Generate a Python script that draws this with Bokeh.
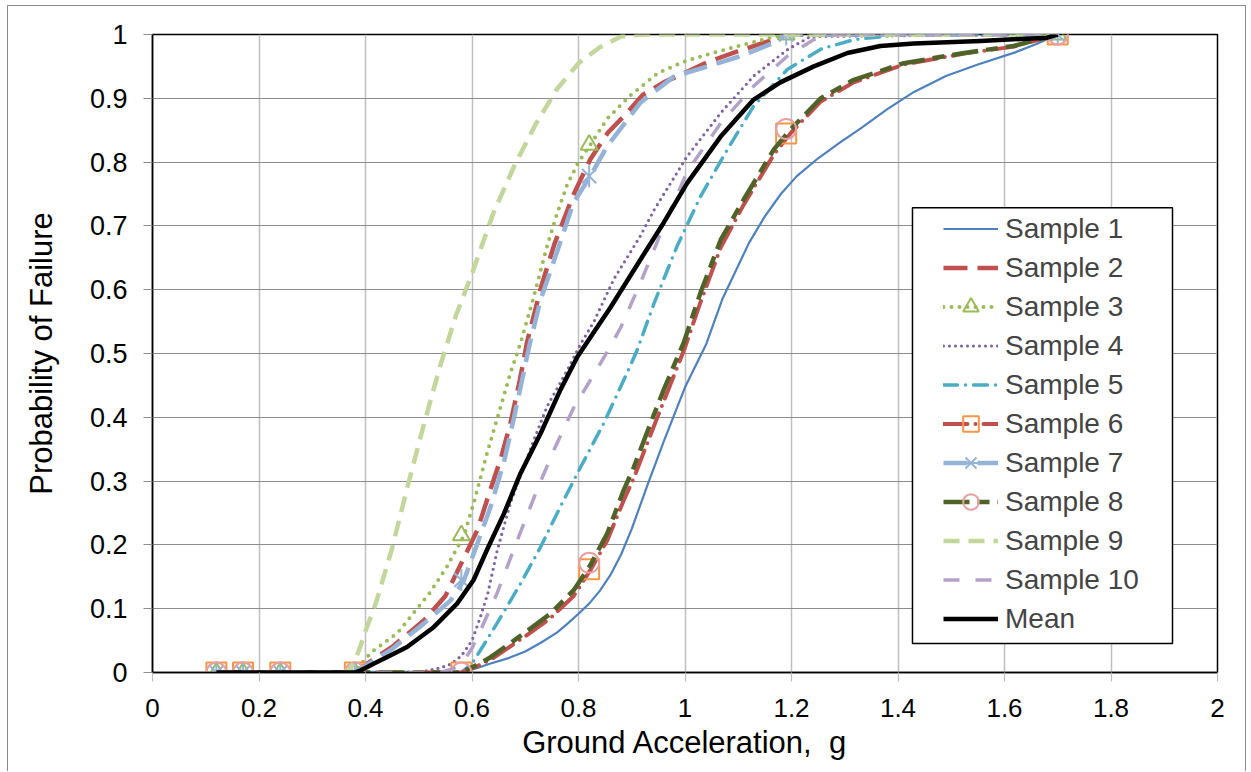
import math
from bokeh.plotting import figure
from bokeh.models import FixedTicker, Legend, LegendItem, BoxAnnotation
from bokeh.embed import file_html
from bokeh.resources import INLINE

# ---------------- data ----------------
x_ticks = [0, 0.2, 0.4, 0.6, 0.8, 1, 1.2, 1.4, 1.6, 1.8, 2]
x_tick_labels = ["0", "0.2", "0.4", "0.6", "0.8", "1", "1.2", "1.4", "1.6", "1.8", "2"]
y_ticks = [0, 0.1, 0.2, 0.3, 0.4, 0.5, 0.6, 0.7, 0.8, 0.9, 1]
y_tick_labels = ["0", "0.1", "0.2", "0.3", "0.4", "0.5", "0.6", "0.7", "0.8", "0.9", "1"]

s1_x = [0.12, 0.58, 0.61, 0.635, 0.67, 0.70, 0.73, 0.76, 0.78, 0.80, 0.82, 0.84, 0.86, 0.88, 0.90, 0.93, 0.96, 1.0, 1.04, 1.07, 1.12, 1.15, 1.18, 1.21, 1.25, 1.29, 1.33, 1.38, 1.43, 1.49, 1.55, 1.62, 1.66, 1.70]
s1_y = [0, 0, 0.007, 0.014, 0.023, 0.033, 0.047, 0.063, 0.077, 0.092, 0.108, 0.128, 0.153, 0.185, 0.225, 0.295, 0.362, 0.447, 0.515, 0.585, 0.673, 0.715, 0.75, 0.778, 0.806, 0.83, 0.853, 0.883, 0.91, 0.935, 0.953, 0.972, 0.985, 1.0]

s2_x = [0.12, 0.38, 0.41, 0.45, 0.51, 0.55, 0.585, 0.61, 0.63, 0.655, 0.672, 0.69, 0.704, 0.73, 0.755, 0.79, 0.822, 0.855, 0.89, 0.92, 0.96, 1.0, 1.04, 1.10, 1.17, 1.19, 1.70]
s2_y = [0, 0, 0.018, 0.04, 0.082, 0.12, 0.18, 0.223, 0.275, 0.338, 0.39, 0.459, 0.52, 0.605, 0.672, 0.748, 0.804, 0.846, 0.876, 0.905, 0.925, 0.94, 0.956, 0.974, 0.993, 1.0, 1.0]

s3_x = [0.12, 0.38, 0.40, 0.416, 0.46, 0.52, 0.553, 0.585, 0.603, 0.628, 0.654, 0.672, 0.691, 0.716, 0.741, 0.76, 0.779, 0.80, 0.822, 0.854, 0.898, 0.95, 1.0, 1.04, 1.10, 1.16, 1.19, 1.70]
s3_y = [0, 0, 0.022, 0.035, 0.062, 0.124, 0.166, 0.215, 0.265, 0.343, 0.417, 0.469, 0.516, 0.589, 0.668, 0.72, 0.765, 0.80, 0.827, 0.868, 0.905, 0.94, 0.958, 0.968, 0.982, 0.995, 1.0, 1.0]

s4_x = [0.12, 0.50, 0.54, 0.56, 0.58, 0.60, 0.615, 0.63, 0.647, 0.672, 0.697, 0.716, 0.741, 0.779, 0.804, 0.829, 0.866, 0.916, 0.942, 1.004, 1.067, 1.129, 1.192, 1.236, 1.70]
s4_y = [0, 0, 0.007, 0.013, 0.026, 0.05, 0.085, 0.125, 0.19, 0.265, 0.322, 0.364, 0.417, 0.474, 0.515, 0.55, 0.616, 0.684, 0.725, 0.809, 0.877, 0.935, 0.976, 0.997, 1.0]

s5_x = [0.12, 0.58, 0.60, 0.616, 0.647, 0.691, 0.729, 0.766, 0.804, 0.847, 0.891, 0.910, 0.942, 0.985, 1.029, 1.079, 1.129, 1.192, 1.255, 1.317, 1.41, 1.70]
s5_y = [0, 0, 0.014, 0.035, 0.077, 0.139, 0.197, 0.26, 0.322, 0.39, 0.469, 0.505, 0.579, 0.668, 0.746, 0.819, 0.888, 0.945, 0.977, 0.992, 1.0, 1.0]

s6_x = [0.12, 0.58, 0.61, 0.635, 0.697, 0.747, 0.791, 0.822, 0.854, 0.885, 0.904, 0.935, 0.960, 0.998, 1.029, 1.067, 1.110, 1.167, 1.198, 1.255, 1.317, 1.411, 1.524, 1.617, 1.70]
s6_y = [0, 0, 0.01, 0.02, 0.055, 0.085, 0.12, 0.16, 0.207, 0.27, 0.305, 0.372, 0.425, 0.505, 0.58, 0.666, 0.733, 0.812, 0.845, 0.895, 0.925, 0.953, 0.97, 0.981, 1.0]

s7_x = [0.12, 0.38, 0.41, 0.447, 0.51, 0.56, 0.585, 0.61, 0.635, 0.66, 0.679, 0.697, 0.707, 0.729, 0.76, 0.79, 0.822, 0.854, 0.916, 0.979, 1.042, 1.104, 1.167, 1.19, 1.70]
s7_y = [0, 0, 0.016, 0.035, 0.077, 0.113, 0.145, 0.202, 0.26, 0.33, 0.40, 0.47, 0.51, 0.585, 0.66, 0.735, 0.778, 0.825, 0.893, 0.934, 0.95, 0.966, 0.987, 1.0, 1.0]

s8_x = [0.12, 0.58, 0.61, 0.635, 0.697, 0.747, 0.791, 0.822, 0.854, 0.885, 0.904, 0.935, 0.960, 0.998, 1.029, 1.067, 1.110, 1.167, 1.198, 1.255, 1.317, 1.411, 1.524, 1.617, 1.70]
s8_y = [0, 0, 0.012, 0.024, 0.061, 0.092, 0.129, 0.168, 0.218, 0.286, 0.322, 0.39, 0.443, 0.518, 0.595, 0.678, 0.741, 0.82, 0.851, 0.9, 0.929, 0.955, 0.971, 0.982, 1.0]

s9_x = [0.12, 0.36, 0.37, 0.38, 0.39, 0.40, 0.42, 0.45, 0.48, 0.51, 0.54, 0.57, 0.60, 0.64, 0.68, 0.72, 0.76, 0.80, 0.84, 0.88, 0.92, 1.70]
s9_y = [0, 0, 0.005, 0.018, 0.04, 0.065, 0.11, 0.195, 0.295, 0.39, 0.48, 0.56, 0.625, 0.72, 0.795, 0.86, 0.915, 0.955, 0.98, 0.997, 1.0, 1.0]

s10_x = [0.12, 0.54, 0.565, 0.585, 0.60, 0.616, 0.647, 0.685, 0.722, 0.754, 0.791, 0.82, 0.85, 0.879, 0.917, 0.960, 1.004, 1.067, 1.129, 1.192, 1.242, 1.286, 1.70]
s10_y = [0, 0, 0.006, 0.019, 0.038, 0.066, 0.124, 0.207, 0.286, 0.349, 0.415, 0.455, 0.497, 0.54, 0.612, 0.70, 0.785, 0.861, 0.919, 0.966, 0.992, 1.0, 1.0]

mean_x = [0.12, 0.38, 0.39, 0.40, 0.416, 0.44, 0.478, 0.528, 0.572, 0.603, 0.628, 0.66, 0.691, 0.729, 0.766, 0.798, 0.83, 0.86, 0.89, 0.92, 0.96, 1.004, 1.067, 1.129, 1.179, 1.242, 1.305, 1.367, 1.43, 1.555, 1.68, 1.70]
mean_y = [0, 0, 0.003, 0.007, 0.014, 0.024, 0.04, 0.071, 0.108, 0.145, 0.192, 0.249, 0.312, 0.375, 0.443, 0.495, 0.535, 0.572, 0.612, 0.652, 0.705, 0.767, 0.84, 0.898, 0.925, 0.95, 0.971, 0.982, 0.986, 0.99, 0.995, 1.0]

marker_x = [0.12, 0.17, 0.24, 0.38, 0.58, 0.82, 1.19, 1.70]
s3_marker_y = [0, 0, 0, 0, 0.215, 0.827, 1.0, 1.0]
s6_marker_y = [0, 0, 0, 0, 0, 0.162, 0.845, 1.0]
s7_marker_y = [0, 0, 0, 0, 0.145, 0.778, 1.0, 1.0]
s8_marker_y = [0, 0, 0, 0, 0, 0.172, 0.852, 1.0]

# ---------------- figure ----------------
FONT = "Liberation Sans"

p = figure(width=1239, height=766, x_range=(0, 2), y_range=(0, 1),
           output_backend="svg", toolbar_location=None,
           min_border_left=144, min_border_right=30, min_border_top=28, min_border_bottom=100,
           margin=(5, 0, 0, 7))
p.styles = {"border-left": "1.5px solid #8a8a8a", "border-top": "1.5px solid #8a8a8a",
            "border-right": "1.5px solid #8a8a8a"}
p.background_fill_color = "white"
p.border_fill_color = "white"
p.outline_line_color = "black"
p.outline_line_width = 1.5

p.xaxis.ticker = FixedTicker(ticks=x_ticks)
p.yaxis.ticker = FixedTicker(ticks=y_ticks)
p.xaxis.major_label_overrides = {t: l for t, l in zip(x_ticks, x_tick_labels)}
p.yaxis.major_label_overrides = {t: l for t, l in zip(y_ticks, y_tick_labels)}

for ax in (p.xaxis, p.yaxis):
    ax.axis_line_color = "black"
    ax.axis_line_width = 1.5
    ax.major_tick_line_width = 1.2
    ax.major_tick_in = 0
    ax.major_tick_out = 9
    ax.minor_tick_line_color = None
    ax.major_label_text_font = FONT
    ax.major_label_text_color = "black"
    ax.axis_label_text_font = FONT
    ax.axis_label_text_font_style = "normal"
    ax.axis_label_text_color = "black"

p.xaxis.major_tick_line_color = "#bfbfbf"
p.yaxis.major_tick_line_color = "#8c8c8c"
p.xaxis.major_label_text_font_size = "26px"
p.yaxis.major_label_text_font_size = "27px"
p.xaxis.major_label_standoff = 17
p.yaxis.major_label_standoff = 16
p.xaxis.axis_label = "Ground Acceleration,\u00a0 g"
p.yaxis.axis_label = "Probability of Failure"
p.xaxis.axis_label_text_font_size = "31px"
p.yaxis.axis_label_text_font_size = "31px"
p.xaxis.axis_label_standoff = 5
p.yaxis.axis_label_standoff = 28

p.xgrid.grid_line_color = "#bfbfbf"
p.xgrid.grid_line_width = 1.5
p.ygrid.grid_line_color = "#8c8c8c"
p.ygrid.grid_line_width = 1.2

common = dict(line_join="round")
r1 = p.line(s1_x, s1_y, line_color="#4F81BD", line_width=2.2, **common)
r2 = p.line(s2_x, s2_y, line_color="#C0504D", line_width=4.5, line_dash="24 10", **common)
r3 = p.line(s3_x, s3_y, line_color="#9BBB59", line_width=4, line_dash="0 8", line_cap="round", **common)
r3m = p.scatter(marker_x, s3_marker_y, marker="triangle", size=17, fill_color=None,
                line_color="#9BBB59", line_width=2)
r4 = p.line(s4_x, s4_y, line_color="#8064A2", line_width=3.2, line_dash="0 6", line_cap="round", **common)
r5 = p.line(s5_x, s5_y, line_color="#4BACC6", line_width=3.5, line_dash="14 8 0 8", line_cap="round", **common)
r6 = p.line(s6_x, s6_y, line_color="#C0504D", line_width=4, line_dash="24 8 0 8", line_cap="round", **common)
r6m = p.scatter(marker_x, s6_marker_y, marker="square", size=20, fill_color=None,
                line_color="#F79646", line_width=2)
r7 = p.line(s7_x, s7_y, line_color="#95B3D7", line_width=4.5, line_dash="24 10", **common)
r7m = p.scatter(marker_x, s7_marker_y, marker="x", size=20, line_color="#95B3D7", line_width=2)
r7v = p.scatter(marker_x, s7_marker_y, marker="dash", size=22, angle=math.pi / 2,
                line_color="#95B3D7", line_width=2)
r8 = p.line(s8_x, s8_y, line_color="#4F6228", line_width=4.5, line_dash="26 8 12 8", **common)
r8m = p.scatter(marker_x, s8_marker_y, marker="circle", size=20, fill_color=None,
                line_color="#E6A0A0", line_width=2)
r9 = p.line(s9_x, s9_y, line_color="#C3D69B", line_width=4.5, line_dash="16 9", **common)
r10 = p.line(s10_x, s10_y, line_color="#B3A2C7", line_width=3.5, line_dash="16 16", **common)
rm = p.line(mean_x, mean_y, line_color="black", line_width=4.5, **common)

# legend frame
p.add_layout(BoxAnnotation(left=1.4272, right=1.9155, bottom=0.0455, top=0.7284,
                           fill_color="white", fill_alpha=1.0,
                           line_color="black", line_width=1.5, line_alpha=1.0))

items = [
    LegendItem(label="Sample 1", renderers=[r1]),
    LegendItem(label="Sample 2", renderers=[r2]),
    LegendItem(label="Sample 3", renderers=[r3, r3m]),
    LegendItem(label="Sample 4", renderers=[r4]),
    LegendItem(label="Sample 5", renderers=[r5]),
    LegendItem(label="Sample 6", renderers=[r6, r6m]),
    LegendItem(label="Sample 7", renderers=[r7, r7m, r7v]),
    LegendItem(label="Sample 8", renderers=[r8, r8m]),
    LegendItem(label="Sample 9", renderers=[r9]),
    LegendItem(label="Sample 10", renderers=[r10]),
    LegendItem(label="Mean", renderers=[rm]),
]
legend = Legend(items=items, location=(791, 34), padding=0, margin=0, spacing=0,
                glyph_width=55, glyph_height=39, label_height=39, label_standoff=7,
                label_text_font=FONT, label_text_font_size="28px",
                border_line_alpha=0, background_fill_alpha=0)
p.add_layout(legend)

open("out.html", "w").write(file_html(p, INLINE))
